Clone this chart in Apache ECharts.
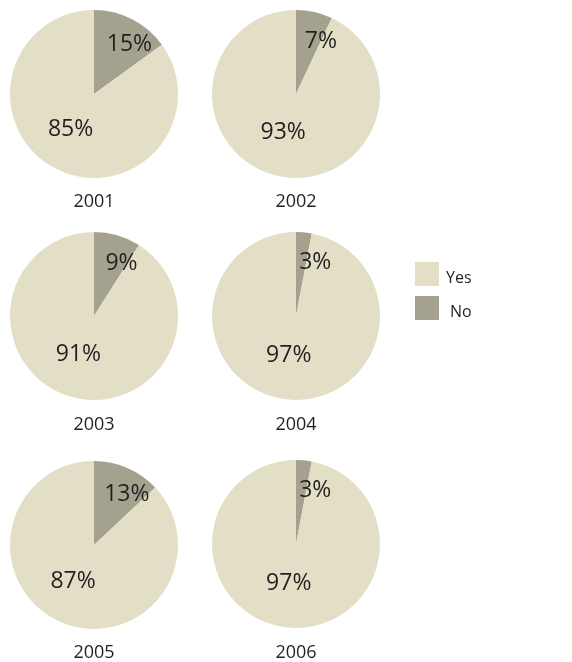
<!DOCTYPE html>
<html><head><meta charset="utf-8">
<script src="https://cdn.jsdelivr.net/npm/echarts@6/dist/echarts.min.js"></script>
<style>html,body{margin:0;padding:0;background:#fff}#c{width:572px;height:662px}</style>
</head><body><div id="c"></div>
<script>
const years = ['2001','2002','2003','2004','2005','2006'];
const yesValues = [85, 93, 91, 97, 87, 97];
const noValues = [15, 7, 9, 3, 13, 3];
const legendNames = ['Yes','No'];

const colors = {Yes:'#E2DFC6', No:'#A4A28E'};
const centers = [[94,94],[296,94],[94,316],[296,316],[94,545],[296,544]];
const yearY = [202,202,425,425,653,653];
const R = 84;
const font = '"Open Sans", "Noto Sans", sans-serif';
const textColor = '#231F20';

const series = years.map((y,i)=>({
  type:'pie', name:y, center:centers[i], radius:[0,R], startAngle:90, clockwise:true,
  silent:true, animation:false, emphasis:{disabled:true},
  labelLine:{show:false},
  data:[
    {name:'No', value:noValues[i], itemStyle:{color:colors.No},
     label:{show:true, position:'inside', offset:[15,-9], formatter:'{c}%', fontSize:23, color:textColor, fontFamily:font}},
    {name:'Yes', value:yesValues[i], itemStyle:{color:colors.Yes},
     label:{show:true, position:'inside', offset:[-3,-5], formatter:'{c}%', fontSize:23, color:textColor, fontFamily:font}}
  ]
}));

const chart = echarts.init(document.getElementById('c'), null, {renderer:'canvas'});
chart.setOption({
  animation:false,
  title: years.map((y,i)=>({text:y, left:centers[i][0], top:yearY[i], textAlign:'center', textVerticalAlign:'middle', padding:0,
    textStyle:{fontSize:18, fontWeight:'normal', color:textColor, fontFamily:font}})),
  legend:{orient:'vertical', left:415, top:262, padding:0, itemWidth:24, itemHeight:24, itemGap:10, selectedMode:false,
    icon:'rect',
    formatter: name => name === 'No' ? '{n|' + name + '}' : '{y|' + name + '}',
    textStyle:{fontSize:16, color:textColor, fontFamily:font,
      rich:{
        y:{fontSize:16, color:textColor, fontFamily:font, padding:[8,0,0,2]},
        n:{fontSize:16, color:textColor, fontFamily:font, padding:[8,0,0,6]}
      }},
    data:legendNames},
  series: series
});
</script></body></html>
